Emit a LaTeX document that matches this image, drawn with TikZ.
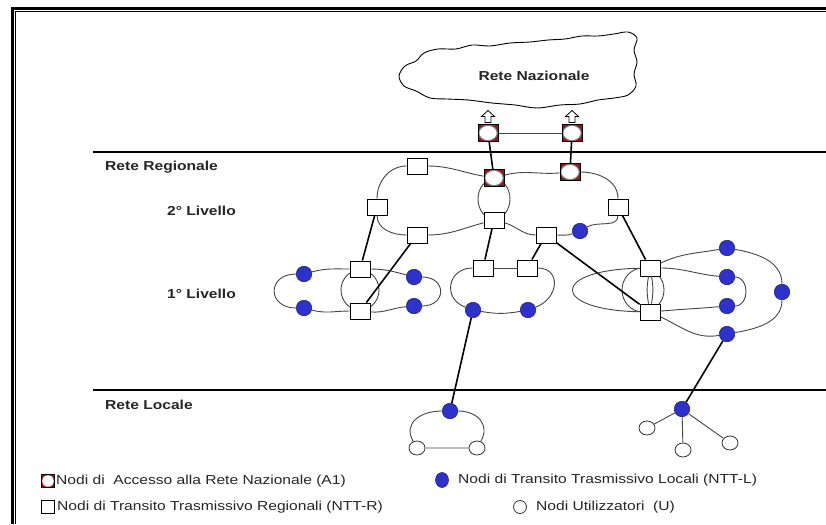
\documentclass[tikz,border=0pt]{standalone}
\usepackage{fontspec}
\setmainfont{Liberation Sans}
\newfontfamily\wfont[FakeStretch=1.2]{Liberation Sans}
\usetikzlibrary{calc,shapes.geometric}
\definecolor{accred}{RGB}{150,20,30}
\definecolor{nblue}{RGB}{45,50,205}
\definecolor{nblueline}{RGB}{25,25,120}
\definecolor{ringgray}{RGB}{70,70,70}
\begin{document}
\begin{tikzpicture}[x=1pt,y=1pt,
  sq/.style={draw=black, fill=white, line width=0.9pt, minimum width=20pt, minimum height=16pt, inner sep=0pt},
  acc/.style={draw=black, line width=1pt, fill=accred, minimum width=20pt, minimum height=17pt, inner sep=0pt,
    path picture={\fill[white,draw=gray] (path picture bounding box.center) ellipse (9.2pt and 7.6pt);}},
  acclg/.style={draw=black, line width=0.8pt, fill=accred, minimum width=13pt, minimum height=13pt, inner sep=0pt,
    path picture={\fill[white] (path picture bounding box.center) ellipse (5.8pt and 5.8pt);}},
  bdot/.style={circle, draw=nblueline, fill=nblue, minimum size=15.5pt, inner sep=0pt, line width=0.5pt},
  wdot/.style={ellipse, draw=black!80, fill=white, minimum width=16pt, minimum height=14pt, inner sep=0pt, line width=0.8pt},
  ring/.style={draw=ringgray, line width=0.9pt},
  link/.style={draw=black, line width=1.6pt},
  hline/.style={draw=black, line width=1.1pt},
  lbl/.style={font=\wfont\bfseries\fontsize{13}{15}\selectfont, anchor=west, text=black!85, inner sep=0pt},
  leg/.style={font=\wfont\fontsize{13}{15}\selectfont, anchor=west, text=black!85, inner sep=0pt},
  uparrow/.style={draw=black, line width=0.8pt, fill=white}]
\useasboundingbox (0,0) rectangle (826,-524);
\fill[white] (0,0) rectangle (826,-524);
% frame
\draw[line width=3pt] (12.5,-524) -- (12.5,-9) -- (826,-9);
\draw[line width=1pt] (15.5,-524) -- (15.5,-12) -- (826,-12);
% level separators
\draw[hline] (93,-152) -- (826,-152);
\draw[hline] (93,-390) -- (826,-390);
% labels
\node[lbl] (rr) at (105,-167) {Rete Regionale};
\node[lbl] (l2) at (167,-211) {2° Livello};
\node[lbl] (l1) at (167,-294) {1° Livello};
\node[lbl] (rl) at (105,-405) {Rete Locale};
% cloud
\draw[line width=0.9pt, fill=white] plot[smooth cycle, tension=0.55] coordinates {
 (399,-76) (405,-66) (416,-61) (424,-53) (438,-49) (456,-49) (472,-45) (490,-46) (510,-43) (530,-42)
 (548,-40) (565,-39) (582,-36) (598,-36) (614,-34) (628,-32) (637,-38) (634,-50) (637,-62) (634,-74)
 (636,-86) (628,-95) (614,-98) (598,-100) (580,-104) (560,-105) (537,-108) (515,-105) (492,-103)
 (468,-100) (447,-99) (430,-98) (416,-91) (404,-86)};
\node[font=\wfont\bfseries\fontsize{13}{15}\selectfont, text=black!85] (rn) at (534,-76) {Rete Nazionale};
% small inner rings
\draw[ring] (494,-199) ellipse (16 and 20);
\draw[ring] (360,-290) ellipse (19 and 20);
\draw[ring] (643,-290) ellipse (21 and 22);
% nodes
\node[acc] (T1) at (488,-133) {};
\node[acc] (T2) at (572,-133) {};
\node[acc] (A1a) at (494,-178) {};
\node[acc] (A1b) at (570,-172) {};
\node[sq] (S1) at (417,-166) {};
\node[sq] (S2) at (377,-207) {};
\node[sq] (S3) at (417,-235) {};
\node[sq] (S4) at (494,-220) {};
\node[sq] (S5) at (618,-207) {};
\node[sq] (S6) at (546,-235) {};
\node[bdot] (B1) at (580,-231) {};
\node[sq] (Q1) at (360,-269) {};
\node[sq] (Q2) at (360,-311) {};
\node[bdot] (L1) at (304,-274) {};
\node[bdot] (L2) at (304,-308) {};
\node[bdot] (L3) at (414,-277) {};
\node[bdot] (L4) at (414,-306) {};
\node[sq] (M1) at (483,-268) {};
\node[sq] (M2) at (527,-268) {};
\node[bdot] (MB1) at (473,-310) {};
\node[bdot] (MB2) at (528,-310) {};
\node[sq] (R1) at (650,-268) {};
\node[sq] (R2) at (650,-312) {};
\node[bdot] (RB1) at (727,-248) {};
\node[bdot] (RB2) at (727,-277) {};
\node[bdot] (RB3) at (727,-306) {};
\node[bdot] (RB4) at (727,-334) {};
\node[bdot] (RB5) at (782,-292) {};
\node[bdot] (LH1) at (450,-411) {};
\node[wdot] (W1) at (417,-448) {};
\node[wdot] (W2) at (477,-448) {};
\node[bdot] (LH2) at (682,-409) {};
\node[wdot] (U1) at (647,-428) {};
\node[wdot] (U2) at (683,-450) {};
\node[wdot] (U3) at (730,-443) {};
% arrows to national network
\draw[uparrow] ($(T1.north)+(-3,1.5)$) -- ++(0,6) -- ++(-3.5,0) -- ++(6.5,6) -- ++(6.5,-6) -- ++(-3.5,0) -- ++(0,-6) -- cycle;
\draw[uparrow] ($(T2.north)+(-3,1.5)$) -- ++(0,6) -- ++(-3.5,0) -- ++(6.5,6) -- ++(6.5,-6) -- ++(-3.5,0) -- ++(0,-6) -- cycle;
\draw[ring] (T1) -- (T2);
\draw[link] (T1) -- (A1a);
\draw[link] (T2) -- (A1b);
% 2nd level rings
\draw[ring] (A1a) to[out=170,in=0] (S1) to[out=180,in=90] (S2) to[out=-90,in=180] (S3) to[out=0,in=195] (S4);
\draw[ring] (A1a) to[out=15,in=185] (A1b) to[out=0,in=90] (S5) to[out=-90,in=30] (B1) to[out=200,in=0] (S6) to[out=180,in=-15] (S4);
% inter-level links
\draw[link] (S2) -- (Q1);
\draw[link] (S3) -- (Q2);
\draw[link] (S4) -- (M1);
\draw[link] (S6) -- (M2);
\draw[link] (S6) -- (R2);
\draw[link] (S5) -- (R1);
% 1st level left ring
\draw[ring] (Q1) to[out=0,in=165] (L3) to[out=0,in=0,looseness=2.2] (L4) to[out=185,in=-5] (Q2)
  to[out=180,in=-15] (L2) to[out=180,in=180,looseness=2.2] (L1) to[out=15,in=180] (Q1);
% 1st level middle ring
\draw[ring] (M1) -- (M2);
\draw[ring] (M2) to[out=0,in=20,looseness=1.6] (MB2) to[out=190,in=-10] (MB1) to[out=160,in=180,looseness=1.6] (M1);
% 1st level right rings
\draw[ring] (R1) to[out=25,in=190] (RB1) to[out=-10,in=90] (RB5) to[out=-90,in=10] (RB4) to[out=190,in=-25] (R2);
\draw[ring] (R1) to[out=0,in=175] (RB2) to[out=0,in=0,looseness=1.3] (RB3) to[out=185,in=5] (R2);
\draw[ring] (R1) .. controls +(-100,-2) and +(-100,2) .. (R2);
\draw[ring] (R1) to[out=-100,in=100] (R2);
\draw[ring] (R1) to[out=-80,in=80] (R2);
% local links
\draw[link] (MB1) -- (LH1);
\draw[link] (RB4) -- (LH2);
\draw[ring] (LH1) to[out=0,in=60,looseness=1.3] (W2) -- (W1) to[out=120,in=180,looseness=1.3] (LH1);
\draw[ring] (LH2) -- (U1);
\draw[ring] (LH2) -- (U2);
\draw[ring] (LH2) -- (U3);
% legend
\node[acclg] (k1) at (48,-481) {};
\node[leg] (k1t) at (56,-481) {Nodi di\ \ Accesso alla Rete Nazionale (A1)};
\node[sq, minimum width=13pt, minimum height=13pt, line width=0.7pt] (k2) at (48,-507) {};
\node[leg] (k2t) at (57,-507) {Nodi di Transito Trasmissivo Regionali (NTT-R)};
\node[bdot, ellipse, minimum width=13pt, minimum height=15pt] (k3) at (442,-480) {};
\node[leg] (k3t) at (458,-480) {Nodi di Transito Trasmissivo Locali (NTT-L)};
\node[wdot, circle, minimum size=13pt, minimum width=13pt, minimum height=13pt] (k4) at (520,-507) {};
\node[leg] (k4t) at (536,-507) {Nodi Utilizzatori\ \ (U)};
\end{tikzpicture}
\end{document}
